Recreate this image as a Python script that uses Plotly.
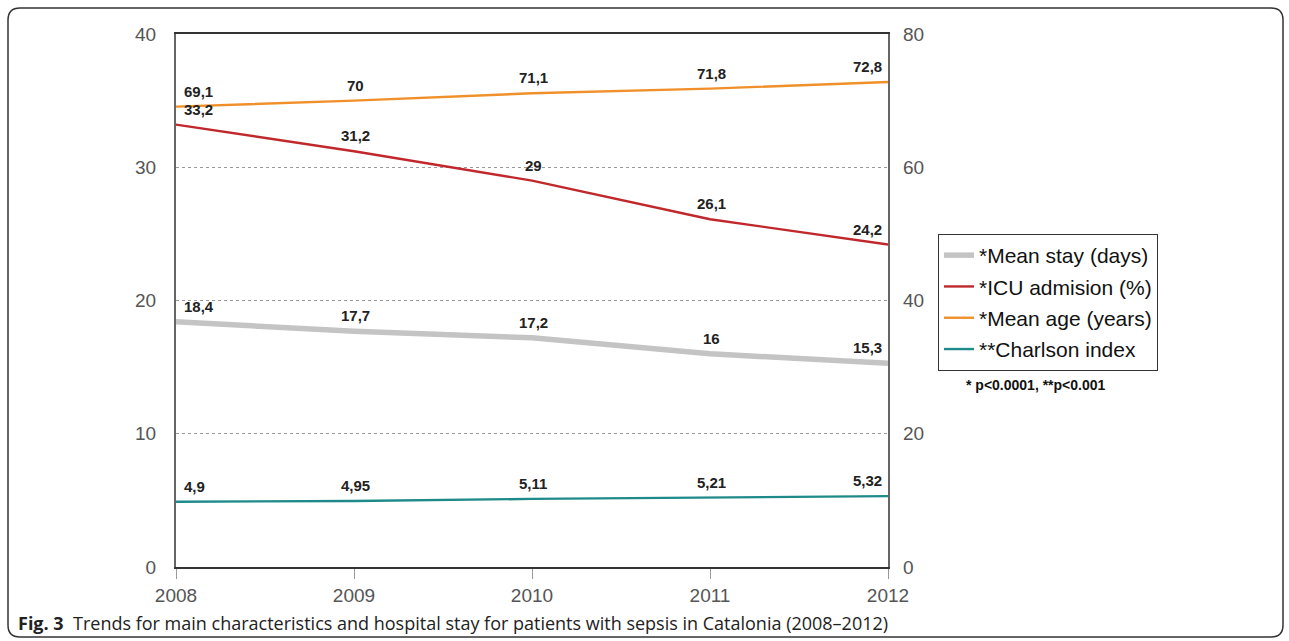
import plotly.graph_objects as go

years = [2008, 2009, 2010, 2011, 2012]
mean_stay = [18.4, 17.7, 17.2, 16, 15.3]
icu = [33.2, 31.2, 29, 26.1, 24.2]
mean_age = [69.1, 70, 71.1, 71.8, 72.8]
charlson = [4.9, 4.95, 5.11, 5.21, 5.32]
stay_lbl = ["18,4", "17,7", "17,2", "16", "15,3"]
icu_lbl = ["33,2", "31,2", "29", "26,1", "24,2"]
age_lbl = ["69,1", "70", "71,1", "71,8", "72,8"]
ch_lbl = ["4,9", "4,95", "5,11", "5,21", "5,32"]
left_ticks = [0, 10, 20, 30, 40]
right_ticks = [0, 20, 40, 60, 80]

W, H = 1289, 641
L, R, T, B = 176, 888, 34, 567


def px(x):
    return (x - L) / (R - L)


def py(y):
    return (B - y) / (B - T)


fig = go.Figure()
series = [
    ("*Mean stay (days)", mean_stay, stay_lbl, "#c4c4c4", 5.5, "y"),
    ("*ICU admision (%)", icu, icu_lbl, "#c0282c", 2.4, "y"),
    ("*Mean age (years)", mean_age, age_lbl, "#f0902a", 2.4, "y2"),
    ("**Charlson index", charlson, ch_lbl, "#1f8a8a", 2.4, "y"),
]
for i, (name, vals, lbls, col, w, ax) in enumerate(series):
    fig.add_trace(go.Scatter(x=years, y=vals, mode="lines", name=name,
                             line=dict(color=col, width=w), yaxis=ax,
                             legendgroup=str(i)))
    n = len(years)
    for j, (xv, yv, t) in enumerate(zip(years, vals, lbls)):
        xa = "left" if j == 0 else ("right" if j == n - 1 else "center")
        xs = 6 if j == 0 else (-4 if j == n - 1 else 1)
        fig.add_annotation(x=xv, y=yv, text="<b>" + t + "</b>", showarrow=False,
                           xanchor=xa, yanchor="bottom", yshift=5, xshift=xs,
                           yref=ax, font=dict(family="Liberation Sans", size=15, color="#222"))

fig.update_layout(
    width=W, height=H,
    margin=dict(l=L, r=W - R, t=T, b=H - B),
    paper_bgcolor="white", plot_bgcolor="white",
    font=dict(family="Liberation Sans", color="#444"),
    showlegend=True,
    legend=dict(x=px(938), y=py(234), xanchor="left", yanchor="top",
                bordercolor="#333", borderwidth=1, bgcolor="white",
                font=dict(size=21, color="#111"), tracegroupgap=1,
                itemwidth=30),
    xaxis=dict(range=[2008, 2012], tickvals=years, ticks="outside", ticklen=10,
               tickcolor="#999", showgrid=False, zeroline=False,
               showline=True, linecolor="#333", linewidth=1.5, mirror=True,
               tickfont=dict(size=19, color="#555")),
    yaxis=dict(range=[0, 40], tickvals=left_ticks, showgrid=True,
               gridcolor="#999", griddash="dot", gridwidth=1, zeroline=False,
               showline=True, linecolor="#666", linewidth=2, mirror=True,
               ticks="", ticklabelstandoff=14,
               tickfont=dict(size=19, color="#555")),
    yaxis2=dict(range=[0, 80], tickvals=right_ticks, overlaying="y", side="right",
                showgrid=False, zeroline=False, showline=False, ticks="",
                ticklabelstandoff=14, tickfont=dict(size=19, color="#555")),
)

# footnote
fig.add_annotation(x=px(964), y=py(385), xref="paper", yref="paper",
                   text="<b>* p&lt;0.0001, **p&lt;0.001</b>", showarrow=False,
                   xanchor="left", yanchor="middle",
                   font=dict(family="Liberation Sans", size=14, color="#111"))
# caption
fig.add_annotation(x=px(16), y=py(623), xref="paper", yref="paper",
                   text="<b>Fig. 3</b>  Trends for main characteristics and hospital stay for patients with sepsis in Catalonia (2008–2012)",
                   showarrow=False, xanchor="left", yanchor="middle",
                   font=dict(family="Open Sans", size=18, color="#222"))

# outer rounded frame
x0, x1, y0, y1 = 8, 1283, 8, 637
r = 12
pts = (f"M {px(x0+r)},{py(y0)} L {px(x1-r)},{py(y0)} Q {px(x1)},{py(y0)} {px(x1)},{py(y0+r)} "
       f"L {px(x1)},{py(y1-r)} Q {px(x1)},{py(y1)} {px(x1-r)},{py(y1)} "
       f"L {px(x0+r)},{py(y1)} Q {px(x0)},{py(y1)} {px(x0)},{py(y1-r)} "
       f"L {px(x0)},{py(y0+r)} Q {px(x0)},{py(y0)} {px(x0+r)},{py(y0)} Z")
fig.add_shape(type="path", path=pts, xref="paper", yref="paper",
              line=dict(color="#333", width=1.5), layer="below")

fig.write_html("out.html")
